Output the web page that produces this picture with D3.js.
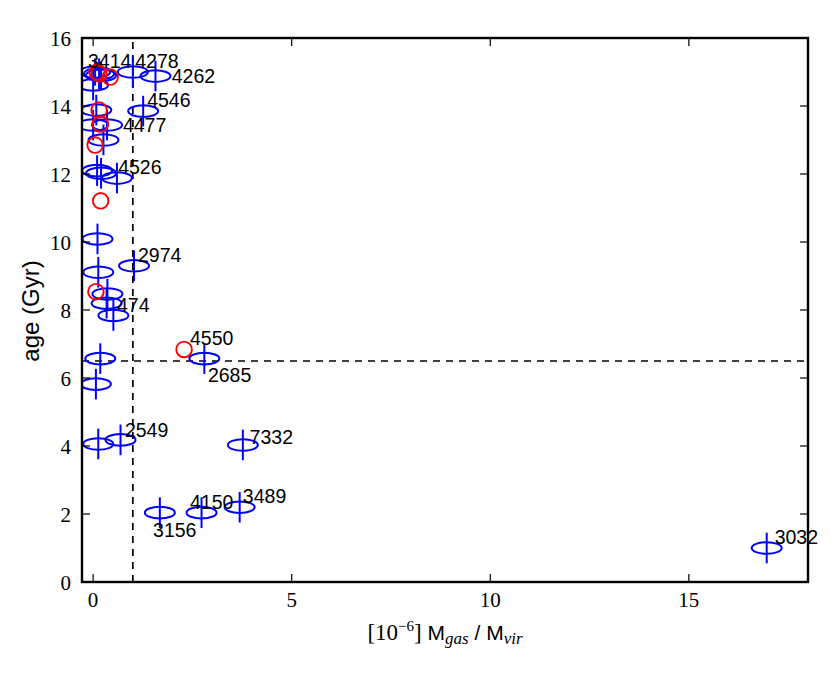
<!DOCTYPE html>
<html><head><meta charset="utf-8">
<script src="https://cdn.jsdelivr.net/npm/d3@7"></script>
<style>
body{margin:0;background:#fff;}
svg{display:block;}
</style></head>
<body>
<svg id="chart" width="831" height="675"></svg>
<script>
// ---- data ----
const blueX = [0.05,0.15,0.2,0.0,1.0,1.57,0.08,1.26,0.0,0.35,0.26,0.1,0.2,0.6,0.11,1.03,0.13,0.36,0.34,0.51,2.80,0.18,0.07,0.13,0.69,3.77,1.68,2.73,3.69,16.96];
const blueY = [15.0,14.95,14.9,14.62,15.0,14.88,13.88,13.85,13.44,13.44,13.0,12.1,12.02,11.88,10.09,9.3,9.11,8.47,8.2,7.84,6.57,6.57,5.82,4.06,4.18,4.03,2.04,2.04,2.2,1.0];
const blueErr = [0.4,0.45,0.4,0.45,0.45,0.45,0.45,0.45,0.45,0.45,0.45,0.45,0.45,0.45,0.45,0.45,0.45,0.45,0.45,0.45,0.45,0.45,0.45,0.45,0.45,0.45,0.45,0.45,0.45,0.45];
const redX = [0.1,0.43,0.15,0.15,0.18,0.05,0.19,0.07,2.29];
const redY = [15.0,14.85,14.95,13.88,13.47,12.85,11.21,8.54,6.84];
const labelText = ["3414","4278","4262","4546","4477","4526","2974","474","4550","2685","2549","7332","3156","4150","3489","3032"];
const labelX = [-0.13,1.06,1.98,1.36,0.75,0.63,1.13,0.60,2.44,2.89,0.80,3.94,1.51,2.44,3.77,17.16];
const labelY = [15.12,15.12,14.68,13.97,13.24,12.0,9.41,7.94,6.97,5.88,4.26,4.06,1.32,2.15,2.32,1.12];
const xTicks = [0,5,10,15];
const yTicks = [0,2,4,6,8,10,12,14,16];
const xDomain = [-0.28,18];
const yDomain = [0,16];
const vLineX = 1;
const hLineY = 6.5;

// ---- layout ----
const svg = d3.select("#chart");
const L = 82, R = 808, T = 38, B = 582;
const x = d3.scaleLinear().domain(xDomain).range([L,R]);
const y = d3.scaleLinear().domain(yDomain).range([B,T]);
const sans = "Liberation Sans, Arial, sans-serif";
const tf = "Liberation Serif, DejaVu Serif, serif";

svg.append("defs").append("clipPath").attr("id","clip")
  .append("rect").attr("x",L).attr("y",T).attr("width",R-L).attr("height",B-T);

const plot = svg.append("g").attr("clip-path","url(#clip)");

// dashed reference lines
plot.append("line").attr("x1",x(vLineX)).attr("x2",x(vLineX)).attr("y1",y(yDomain[0])).attr("y2",y(yDomain[1]))
  .attr("stroke","#000").attr("stroke-width",1.7).attr("stroke-dasharray","7,6");
plot.append("line").attr("x1",x(xDomain[0])).attr("x2",x(xDomain[1])).attr("y1",y(hLineY)).attr("y2",y(hLineY))
  .attr("stroke","#000").attr("stroke-width",1.7).attr("stroke-dasharray","7,6");

// blue points
const blue = blueX.map((v,i)=>({x:v,y:blueY[i],e:blueErr[i]}));
const bg = plot.append("g");
bg.selectAll("line.err").data(blue).join("line").attr("class","err")
  .attr("x1",d=>x(d.x)).attr("x2",d=>x(d.x))
  .attr("y1",d=>y(d.y-d.e)).attr("y2",d=>y(d.y+d.e))
  .attr("stroke","#0000ff").attr("stroke-width",2);
bg.selectAll("ellipse").data(blue).join("ellipse")
  .attr("cx",d=>x(d.x)).attr("cy",d=>y(d.y)).attr("rx",15).attr("ry",5.8)
  .attr("fill","none").attr("stroke","#0000ff").attr("stroke-width",2);

// red circles
const red = redX.map((v,i)=>({x:v,y:redY[i]}));
plot.append("g").selectAll("circle").data(red).join("circle")
  .attr("cx",d=>x(d.x)).attr("cy",d=>y(d.y)).attr("r",7.8)
  .attr("fill","none").attr("stroke","#ff0000").attr("stroke-width",1.9);

// labels
svg.append("g").selectAll("text").data(labelText).join("text")
  .attr("x",(d,i)=>x(labelX[i])).attr("y",(d,i)=>y(labelY[i]))
  .attr("font-family",sans).attr("font-size",19.5)
  .attr("fill","#000").text(d=>d);

// ticks (inward, all sides)
const tk = svg.append("g").attr("stroke","#000").attr("stroke-width",1.2);
xTicks.forEach(t=>{
  tk.append("line").attr("x1",x(t)).attr("x2",x(t)).attr("y1",B).attr("y2",B-8);
  tk.append("line").attr("x1",x(t)).attr("x2",x(t)).attr("y1",T).attr("y2",T+8);
});
yTicks.forEach(t=>{
  tk.append("line").attr("x1",L).attr("x2",L+8).attr("y1",y(t)).attr("y2",y(t));
  tk.append("line").attr("x1",R).attr("x2",R-8).attr("y1",y(t)).attr("y2",y(t));
});

// frame
svg.append("rect").attr("x",L).attr("y",T).attr("width",R-L).attr("height",B-T)
  .attr("fill","none").attr("stroke","#000").attr("stroke-width",2.4);

// tick labels
svg.append("g").selectAll("text").data(xTicks).join("text")
  .attr("x",d=>x(d)).attr("y",B+25).attr("text-anchor","middle")
  .attr("font-family",tf).attr("font-size",21).text(d=>d);
svg.append("g").selectAll("text").data(yTicks).join("text")
  .attr("x",L-11).attr("y",d=>y(d)+8).attr("text-anchor","end")
  .attr("font-family",tf).attr("font-size",21).text(d=>d);

// axis labels
const xl = svg.append("text").attr("x",(L+R)/2).attr("y",640).attr("text-anchor","middle")
  .attr("font-family",sans).attr("font-size",21);
xl.append("tspan").attr("font-family",tf).attr("font-size",23).text("[10");
xl.append("tspan").attr("font-family",tf).attr("font-size",15).attr("dy",-9).text("−6");
xl.append("tspan").attr("font-family",tf).attr("font-size",23).attr("dy",9).text("]");
xl.append("tspan").text(" M");
xl.append("tspan").attr("font-family",tf).attr("font-style","italic").attr("font-size",17).attr("dy",4).text("gas");
xl.append("tspan").attr("dy",-4).text(" / M");
xl.append("tspan").attr("font-family",tf).attr("font-style","italic").attr("font-size",17).attr("dy",4).text("vir");

svg.append("text").attr("transform",`translate(39,${(T+B)/2+1}) rotate(-90)`)
  .attr("text-anchor","middle").attr("font-family",sans)
  .attr("font-size",24).text("age (Gyr)");
</script>
</body></html>
